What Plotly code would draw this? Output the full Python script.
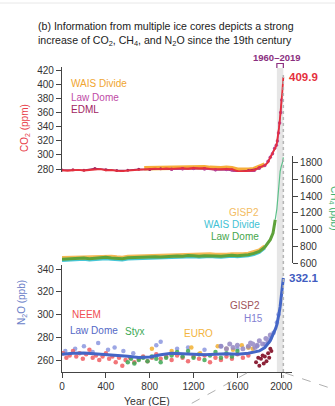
import plotly.graph_objects as go

# ---------------- data ----------------
CO2_YEAR = [0, 50, 100, 150, 200, 250, 300, 350, 400, 450, 500, 550, 600, 650, 700, 750, 800, 850, 900, 950,
            1000, 1050, 1100, 1150, 1200, 1250, 1300, 1350, 1400, 1450, 1500, 1550, 1600, 1650, 1700, 1750, 1800,
            1850, 1875, 1900, 1925, 1950, 1960, 1970, 1980, 1990, 2000, 2010, 2019]
CO2_PPM = [278.0, 277.5, 278.2, 278.8, 277.9, 278.3, 279.4, 279.8, 278.1, 278.6, 277.4, 276.9, 277.6, 278.2, 279.1,
           280.2, 280.0, 280.6, 279.8, 280.7, 280.1, 280.8, 281.2, 280.4, 281.6, 281.0, 281.3, 280.2, 279.6, 279.9,
           280.3, 279.8, 277.1, 276.6, 277.3, 277.9, 282.5, 285.2, 288.6, 296.0, 303.0, 311.3, 316.9, 325.7, 338.8,
           354.4, 369.7, 389.9, 409.9]
EDML_YEAR = [0, 100, 200, 300, 400, 500, 600, 700, 800, 900, 1000, 1100, 1200, 1300, 1400, 1500, 1600, 1700, 1800]
EDML_PPM = [278.6, 279.0, 278.4, 280.6, 278.9, 277.8, 278.3, 279.6, 279.4, 280.5, 279.5, 280.4, 280.8, 280.6,
            279.0, 279.4, 276.0, 277.8, 281.0]
WAIS_CO2_YEAR = [750, 800, 850, 900, 950, 1000, 1050, 1100, 1150, 1200, 1250, 1300, 1350, 1400, 1450, 1500,
                 1550, 1600, 1650, 1700, 1750, 1800, 1850]
WAIS_CO2_PPM = [281.0, 281.2, 281.8, 281.0, 281.9, 281.5, 282.0, 282.4, 281.8, 282.8, 282.3, 282.5, 281.6, 281.0,
                281.2, 281.6, 281.2, 279.0, 278.4, 279.0, 279.8, 283.5, 286.3]
LD_CO2_YEAR = [1000, 1100, 1200, 1300, 1400, 1500, 1550, 1600, 1650, 1700, 1750, 1800, 1850, 1880, 1900, 1920,
               1940, 1955, 1965, 1975, 1985, 1995, 2004]
LD_CO2_PPM = [279.5, 280.2, 280.8, 280.0, 279.0, 279.2, 278.6, 274.8, 275.2, 276.4, 277.0, 281.8, 284.8, 290.8,
              296.5, 301.6, 309.5, 313.7, 319.6, 331.0, 345.0, 360.0, 377.5]

CH4_YEAR = [0, 50, 100, 150, 200, 250, 300, 350, 400, 450, 500, 550, 600, 650, 700, 750, 800, 850, 900, 950,
            1000, 1050, 1100, 1150, 1200, 1250, 1300, 1350, 1400, 1450, 1500, 1550, 1600, 1650, 1700, 1750, 1800,
            1850, 1875, 1900, 1925, 1945]
CH4_LD = [645, 650, 648, 655, 660, 652, 658, 662, 668, 660, 655, 650, 662, 665, 670, 668, 672, 675, 672, 678,
          680, 685, 682, 690, 688, 682, 686, 690, 685, 680, 688, 692, 686, 690, 700, 715, 740, 790, 835, 880,
          960, 1120]
CH4_ICE_YEAR = [0, 50, 100, 150, 200, 250, 300, 350, 400, 450, 500, 550, 600, 650, 700, 750, 800, 850, 900, 950,
                1000, 1050, 1100, 1150, 1200, 1250, 1300, 1350, 1400, 1450, 1500, 1550, 1600, 1650, 1700, 1750,
                1800, 1850]
CH4_GISP2 = [660, 662, 661, 668, 672, 664, 670, 676, 680, 674, 668, 664, 676, 678, 684, 682, 686, 690, 686, 692,
             694, 700, 696, 704, 702, 696, 700, 704, 698, 694, 700, 706, 700, 704, 712, 728, 752, 800]
CH4_WAIS = [630, 634, 633, 640, 644, 636, 642, 648, 652, 645, 640, 636, 648, 650, 656, 654, 658, 662, 660, 664,
            668, 672, 670, 678, 676, 670, 674, 678, 672, 668, 676, 680, 674, 678, 688, 702, 728, 778]
CH4_MOD_YEAR = [1945, 1960, 1970, 1980, 1990, 2000, 2010, 2019]
CH4_MOD = [1120, 1250, 1400, 1560, 1700, 1760, 1800, 1866.3]

N2O_YEAR = [0, 100, 200, 300, 400, 500, 600, 700, 800, 900, 1000, 1100, 1200, 1300, 1400, 1500, 1600, 1700, 1800,
            1850, 1900, 1925, 1950, 1960, 1970, 1980, 1990, 2000, 2010, 2019]
N2O_PPB = [265.0, 266.0, 266.2, 265.6, 264.8, 264.0, 263.2, 262.2, 262.6, 264.6, 266.0, 265.6, 265.2, 264.6,
           265.0, 265.4, 265.0, 266.0, 268.0, 271.0, 277.0, 282.0, 288.0, 291.0, 295.0, 301.0, 307.0, 316.0,
           323.0, 332.1]
NEEM_YEAR = [10, 40, 70, 100, 130, 160, 190, 220, 250, 280, 310, 340, 370, 400, 430, 460, 490, 520, 550, 580,
             620, 660, 700, 740, 780, 820, 860, 900, 950, 1000, 1050, 1100, 1150, 1200, 1250, 1300, 1350, 1400,
             1450, 1500, 1550, 1600, 1650, 1700]
NEEM_PPB = [266, 262, 264, 268, 263, 266, 261, 265, 269, 262, 264, 260, 263, 266, 261, 263, 258, 262, 255, 260,
            262, 258, 261, 263, 259, 262, 265, 261, 263, 260, 264, 262, 259, 263, 261, 264, 258, 262, 260, 263,
            261, 265, 262, 264]
LDN_YEAR = [30, 120, 200, 280, 330, 420, 480, 560, 650, 860, 900, 1050, 1150, 1300, 1450, 1600, 1700, 1780, 1850,
            1900, 1930, 1960, 1975]
LDN_PPB = [268, 270, 272, 267, 275, 269, 271, 268, 266, 273, 276, 270, 271, 269, 272, 270, 271, 272, 274, 279,
           284, 293, 300]
STYX_YEAR = [600, 630, 660, 700, 740, 780, 820, 860, 900, 950, 1000, 1050, 1100, 1150, 1200, 1250, 1300, 1350,
             1400, 1450, 1500, 1550, 1600]
STYX_PPB = [258, 261, 257, 260, 262, 259, 263, 261, 258, 262, 264, 267, 263, 268, 262, 265, 260, 264, 267, 262,
            266, 263, 268]
EURO_YEAR = [820, 1000, 1180, 1260, 1420, 1500, 1560, 1640, 1700, 1740]
EURO_PPB = [270, 268, 271, 266, 272, 270, 269, 273, 271, 270]
H15_YEAR = [1450, 1500, 1530, 1560, 1600, 1650, 1700, 1720, 1740, 1760, 1780, 1800, 1830, 1860, 1880, 1900]
H15_PPB = [272, 270, 274, 271, 273, 270, 272, 275, 274, 271, 273, 277, 274, 279, 276, 282]
GISP2_N2O_YEAR = [1770, 1790, 1800, 1815, 1830, 1840, 1850, 1865, 1880, 1890, 1900, 1910]
GISP2_N2O_PPB = [258, 262, 255, 261, 264, 257, 263, 259, 266, 262, 270, 268]

PERIOD = [1960, 2019]
X_TICKS = [0, 400, 800, 1200, 1600, 2000]
CO2_TICKS = [280, 300, 320, 340, 360, 380, 400, 420]
CH4_TICKS = [600, 800, 1000, 1200, 1400, 1600, 1800]
N2O_TICKS = [260, 280, 300, 320, 340]

# ---------------- layout helpers ----------------
W, H = 335, 406
L, R, T, B = 62, 43, 45, 34
PW, PH = W - L - R, H - T - B


def PX(px):
    return (px - L) / PW


def PY(py):
    return (H - B - py) / PH


FONT = "Liberation Sans, Arial, sans-serif"
AX = "#444444"

fig = go.Figure()


def line(x, y, ax, color, width, mode="lines", size=3, opacity=1.0):
    fig.add_trace(go.Scatter(x=x, y=y, yaxis=ax, mode=mode, opacity=opacity,
                             line=dict(color=color, width=width),
                             marker=dict(color=color, size=size),
                             showlegend=False, hoverinfo="skip"))


# CO2 panel (y2)
line(WAIS_CO2_YEAR, WAIS_CO2_PPM, "y2", "#f6ad3a", 4.5)
line(EDML_YEAR, EDML_PPM, "y2", "#a1245f", 1.5, mode="lines+markers", size=3)
line(LD_CO2_YEAR, LD_CO2_PPM, "y2", "#b8439a", 1.5, mode="lines+markers", size=3.5)
line(CO2_YEAR, CO2_PPM, "y2", "#e5303d", 1.8)

# CH4 panel (y3)
line(CH4_ICE_YEAR, CH4_WAIS, "y3", "#45c6d6", 3)
line(CH4_ICE_YEAR, CH4_GISP2, "y3", "#f5b955", 4)
line(CH4_YEAR, CH4_LD, "y3", "#5ea23a", 3)
line(CH4_MOD_YEAR, CH4_MOD, "y3", "#5cc08a", 1.2)

# N2O panel (y)
line(LDN_YEAR, LDN_PPB, "y", "#8b97e0", 0, mode="markers", size=4.5, opacity=0.85)
line(NEEM_YEAR, NEEM_PPB, "y", "#f05e62", 0, mode="markers", size=4.5, opacity=0.85)
line(STYX_YEAR, STYX_PPB, "y", "#3ea955", 0, mode="markers", size=4.5, opacity=0.85)
line(EURO_YEAR, EURO_PPB, "y", "#f3b53e", 0, mode="markers", size=4.5, opacity=0.9)
line(H15_YEAR, H15_PPB, "y", "#9488c4", 0, mode="markers", size=5, opacity=0.85)
line(GISP2_N2O_YEAR, GISP2_N2O_PPB, "y", "#86172e", 0, mode="markers", size=4, opacity=0.95)
line(N2O_YEAR, N2O_PPB, "y", "#4466c6", 3)

tickfont = dict(family=FONT, size=10, color="#333333")
common = dict(showgrid=False, zeroline=False, showline=True, linecolor=AX, linewidth=1.2,
              ticks="outside", ticklen=5, tickwidth=1.2, tickcolor=AX, tickfont=tickfont)

fig.update_layout(
    width=W, height=H, margin=dict(l=L, r=R, t=T, b=B),
    paper_bgcolor="white", plot_bgcolor="rgba(0,0,0,0)",
    xaxis=dict(range=[0, 2098], tickvals=X_TICKS, anchor="y", **common),
    yaxis=dict(domain=[0, PY(265)], range=[260 - (372 - 360) / 1.1375, 340 + 4 / 1.1375],
               tickvals=N2O_TICKS, anchor="x", **common),
    yaxis2=dict(domain=[PY(172), PY(67)], range=[280 - 3 / 0.7071, 420 + 3 / 0.7071],
                tickvals=CO2_TICKS, anchor="x", **common),
    yaxis3=dict(domain=[PY(263), PY(156.3)], range=[600, 1880], side="right",
                tickvals=CH4_TICKS, anchor="x", **common),
)

shapes = [
    dict(type="rect", xref="x", yref="paper", x0=PERIOD[0], x1=PERIOD[1], y0=0, y1=PY(68),
         fillcolor="#e6e6e6", line=dict(width=0), layer="below"),
    dict(type="line", xref="x", yref="paper", x0=PERIOD[1], x1=PERIOD[1], y0=PY(378), y1=PY(72),
         line=dict(color="#b5b5b5", width=1.5, dash="dot")),
    dict(type="path", xref="x", yref="paper",
         path=f"M {PERIOD[0]},{PY(68)} L {PERIOD[0]},{PY(63.5)} L {PERIOD[1]},{PY(63.5)} L {PERIOD[1]},{PY(68)}",
         line=dict(color="#8b2f7f", width=1.2)),
    dict(type="line", xref="paper", yref="paper", x0=PX(285), x1=PX(336), y0=PY(373), y1=PY(390),
         line=dict(color="#b0b0b0", width=1, dash="dash")),
    dict(type="line", xref="paper", yref="paper", x0=PX(247), x1=PX(185), y0=PY(373), y1=PY(407),
         line=dict(color="#b0b0b0", width=1, dash="dash")),
    dict(type="line", xref="paper", yref="paper", x0=PX(0), x1=PX(335), y0=PY(3), y1=PY(3),
         line=dict(color="#e8e8e8", width=1)),
]
fig.update_layout(shapes=shapes)

ann = []


def txt(text, x, y, color, size=10, xanchor="left", bold=False, angle=0, xref="paper", yref="paper", xshift=0):
    t = f"<b>{text}</b>" if bold else text
    ann.append(dict(text=t, x=x, y=y, xref=xref, yref=yref, xanchor=xanchor, yanchor="middle",
                    showarrow=False, textangle=angle, xshift=xshift,
                    font=dict(family=FONT, size=size, color=color)))


# title
ann.append(dict(text="(b) Information from multiple ice cores depicts a strong<br>"
                     "increase of CO<sub>2</sub>, CH<sub>4</sub>, and N<sub>2</sub>O since the 19th century",
                x=PX(36), y=PY(18), xref="paper", yref="paper", xanchor="left", yanchor="top",
                align="left", showarrow=False, font=dict(family=FONT, size=10.6, color="#222222")))

# period label
txt("1960–2019", PX(277), PY(57), "#8b2f7f", size=9.5, xanchor="center", bold=True)

# end values
txt(f"{CO2_PPM[-1]:.1f}", CO2_YEAR[-1], CO2_PPM[-1], "#e5303d", size=11.5, bold=True,
    xref="x", yref="y2", xshift=4)
txt(f"{CH4_MOD[-1]:.1f}", CH4_MOD_YEAR[-1], CH4_MOD[-1] + 105, "#2fa85a", size=11.5, bold=True,
    xref="x", yref="y3", xshift=6)
txt(f"{N2O_PPB[-1]:.1f}", N2O_YEAR[-1], N2O_PPB[-1], "#3f5cc0", size=11.5, bold=True,
    xref="x", yref="y", xshift=4)

# CO2 labels
txt("WAIS Divide", PX(69), PY(84), "#f0a530")
txt("Law Dome", PX(69), PY(97), "#c04aa6")
txt("EDML", PX(69), PY(109), "#a1245f")

# CH4 labels
txt("GISP2", PX(261), PY(212), "#f3bc62", xanchor="right")
txt("WAIS Divide", PX(262), PY(224), "#3fc2d4", xanchor="right")
txt("Law Dome", PX(261), PY(236), "#46a64c", xanchor="right")

# N2O labels
txt("NEEM", PX(70), PY(314), "#f04e52")
txt("Law Dome", PX(68), PY(330), "#5468c6")
txt("Styx", PX(123), PY(331), "#3ea955")
txt("EURO", PX(182), PY(333), "#f3b53e")
txt("GISP2", PX(262), PY(305), "#a0545a", xanchor="right")
txt("H15", PX(265), PY(318), "#8380d2", xanchor="right")

# axis titles
txt("CO<sub>2</sub> (ppm)", PX(25), PY(128), "#e8404a", angle=-90, xanchor="center")
txt("N<sub>2</sub>O (ppb)", PX(22), PY(303), "#6a80c8", angle=-90, xanchor="center")
txt("CH<sub>4</sub> (ppb)", PX(334), PY(208), "#3fb070", angle=90, xanchor="center")
txt("Year (CE)", PX(147), PY(401), "#333333", size=10.5, xanchor="center")

fig.update_layout(annotations=ann)
fig.write_html("out.html", config={"displayModeBar": False},
               post_script="document.body.style.margin='0';")
